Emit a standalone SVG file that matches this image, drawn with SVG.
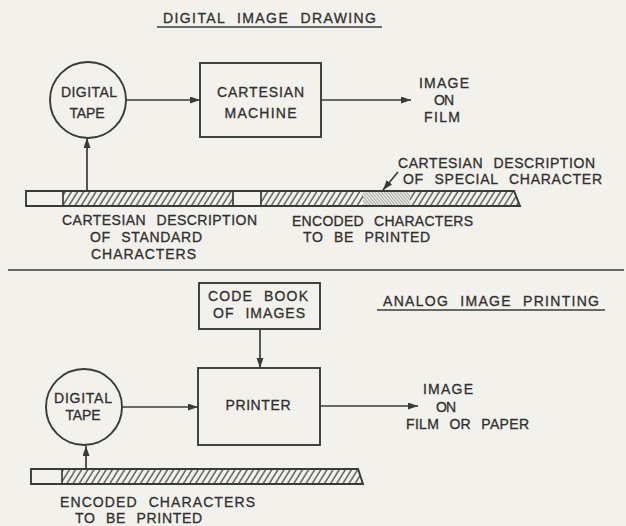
<svg xmlns="http://www.w3.org/2000/svg" width="626" height="526" viewBox="0 0 626 526">
<defs>
<style>
.ln{fill:none;stroke:#3a3a3a;stroke-width:1.7}
.box{fill:none;stroke:#3a3a3a;stroke-width:1.9}
.t{font-family:"Liberation Sans","DejaVu Sans",sans-serif;font-size:14px;fill:#303030;stroke:#303030;stroke-width:0.3;text-anchor:middle;word-spacing:6px}
.con{fill:none;stroke:#3a3a3a;stroke-width:1.7}
</style>
<marker id="ah" markerWidth="11" markerHeight="8" refX="10" refY="3.5" orient="auto" markerUnits="userSpaceOnUse">
<path d="M0,0 L10,3.5 L0,7 Z" fill="#3a3a3a"/>
</marker>
<pattern id="hatch" patternUnits="userSpaceOnUse" width="5.2" height="6" patternTransform="rotate(32)">
<line x1="1" y1="0" x2="1" y2="6" stroke="#3a3a3a" stroke-width="1.2"/>
</pattern>
<pattern id="fine" patternUnits="userSpaceOnUse" width="2.4" height="2.4" patternTransform="rotate(-40)">
<line x1="0.6" y1="0" x2="0.6" y2="2.4" stroke="#8a8a8a" stroke-width="0.8"/>
</pattern>
</defs>
<rect width="626" height="526" fill="#f3f1eb"/>

<g id="title-top">
<text class="t" x="269.5" y="23" textLength="213" lengthAdjust="spacing">DIGITAL IMAGE DRAWING</text>
<line class="ln" x1="157" y1="27" x2="382" y2="27"/>
</g>

<g id="tape1">
<circle class="box" cx="88" cy="100" r="38"/>
<text class="t" x="89" y="97" textLength="56" lengthAdjust="spacing">DIGITAL</text>
<text class="t" x="87" y="118" textLength="35" lengthAdjust="spacing">TAPE</text>
</g>

<g id="cartesian-machine">
<rect class="box" x="200" y="63" width="121" height="74"/>
<text class="t" x="260.5" y="97" textLength="87" lengthAdjust="spacing">CARTESIAN</text>
<text class="t" x="260.5" y="118" textLength="72" lengthAdjust="spacing">MACHINE</text>
</g>

<g id="image-film">
<text class="t" x="444" y="88" textLength="50" lengthAdjust="spacing">IMAGE</text>
<text class="t" x="444" y="105" textLength="20" lengthAdjust="spacing">ON</text>
<text class="t" x="442" y="122" textLength="36" lengthAdjust="spacing">FILM</text>
</g>

<g id="strip-top">
<path d="M26,191 H514 L520,206 H26 Z" fill="url(#hatch)"/>
<rect x="26" y="191" width="37" height="15" fill="#f3f1eb"/>
<rect x="233" y="191" width="28" height="15" fill="#f3f1eb"/>
<rect x="363" y="191" width="47" height="15" fill="#f3f1eb"/>
<rect x="363" y="191" width="47" height="15" fill="url(#fine)"/>
<path class="box" d="M26,191 H514 L520,206 H26 Z"/>
<line class="ln" x1="63" y1="191" x2="63" y2="206"/>
<line class="ln" x1="233" y1="191" x2="233" y2="206"/>
<line class="ln" x1="261" y1="191" x2="261" y2="206"/>
</g>

<g id="labels-top">
<text class="t" x="159.5" y="225" textLength="195" lengthAdjust="spacing">CARTESIAN DESCRIPTION</text>
<text class="t" x="146" y="242" textLength="112" lengthAdjust="spacing">OF STANDARD</text>
<text class="t" x="143.5" y="259" textLength="105" lengthAdjust="spacing">CHARACTERS</text>
<text class="t" x="382.5" y="226" textLength="181" lengthAdjust="spacing">ENCODED CHARACTERS</text>
<text class="t" x="366.5" y="242" textLength="127" lengthAdjust="spacing">TO BE PRINTED</text>
<text class="t" x="496.5" y="168" textLength="197" lengthAdjust="spacing">CARTESIAN DESCRIPTION</text>
<text class="t" x="502.5" y="184" textLength="199" lengthAdjust="spacing">OF SPECIAL CHARACTER</text>
</g>

<line id="separator" class="ln" x1="8" y1="270" x2="624" y2="270" stroke-width="1.9"/>

<g id="title-bottom">
<text class="t" x="491" y="306" textLength="216" lengthAdjust="spacing">ANALOG IMAGE PRINTING</text>
<line class="ln" x1="377" y1="310" x2="605" y2="310"/>
</g>

<g id="code-book">
<rect class="box" x="199" y="283" width="121" height="46"/>
<text class="t" x="258" y="301" textLength="100" lengthAdjust="spacing">CODE BOOK</text>
<text class="t" x="259" y="318" textLength="92" lengthAdjust="spacing">OF IMAGES</text>
</g>

<g id="printer">
<rect class="box" x="198" y="368" width="122" height="77"/>
<text class="t" x="258" y="410" textLength="65" lengthAdjust="spacing">PRINTER</text>
</g>

<g id="tape2">
<circle class="box" cx="84" cy="407" r="38"/>
<text class="t" x="83" y="403" textLength="58" lengthAdjust="spacing">DIGITAL</text>
<text class="t" x="83" y="420" textLength="35" lengthAdjust="spacing">TAPE</text>
</g>

<g id="image-paper">
<text class="t" x="448" y="394" textLength="50" lengthAdjust="spacing">IMAGE</text>
<text class="t" x="446" y="412" textLength="20" lengthAdjust="spacing">ON</text>
<text class="t" x="467.5" y="429" textLength="123" lengthAdjust="spacing">FILM OR PAPER</text>
</g>

<g id="strip-bottom">
<path d="M31,469 H358 L363,484 H31 Z" fill="url(#hatch)"/>
<rect x="31" y="469" width="31" height="15" fill="#f3f1eb"/>
<path class="box" d="M31,469 H358 L363,484 H31 Z"/>
<line class="ln" x1="62" y1="469" x2="62" y2="484"/>
</g>

<g id="labels-bottom">
<text class="t" x="157.5" y="507" textLength="195" lengthAdjust="spacing">ENCODED CHARACTERS</text>
<text class="t" x="138.5" y="523" textLength="127" lengthAdjust="spacing">TO BE PRINTED</text>
</g>

<g id="connectors">
<line class="con" x1="126" y1="100" x2="200" y2="100" marker-end="url(#ah)"/>
<line class="con" x1="321" y1="100" x2="411" y2="100" marker-end="url(#ah)"/>
<line class="con" x1="87" y1="191" x2="87" y2="138" marker-end="url(#ah)"/>
<line class="con" x1="398" y1="172" x2="383" y2="190" marker-end="url(#ah)"/>
<line class="con" x1="260" y1="329" x2="260" y2="368" marker-end="url(#ah)"/>
<line class="con" x1="122" y1="407" x2="198" y2="407" marker-end="url(#ah)"/>
<line class="con" x1="320" y1="406" x2="418" y2="406" marker-end="url(#ah)"/>
<line class="con" x1="86" y1="469" x2="86" y2="446" marker-end="url(#ah)"/>
</g>
</svg>
